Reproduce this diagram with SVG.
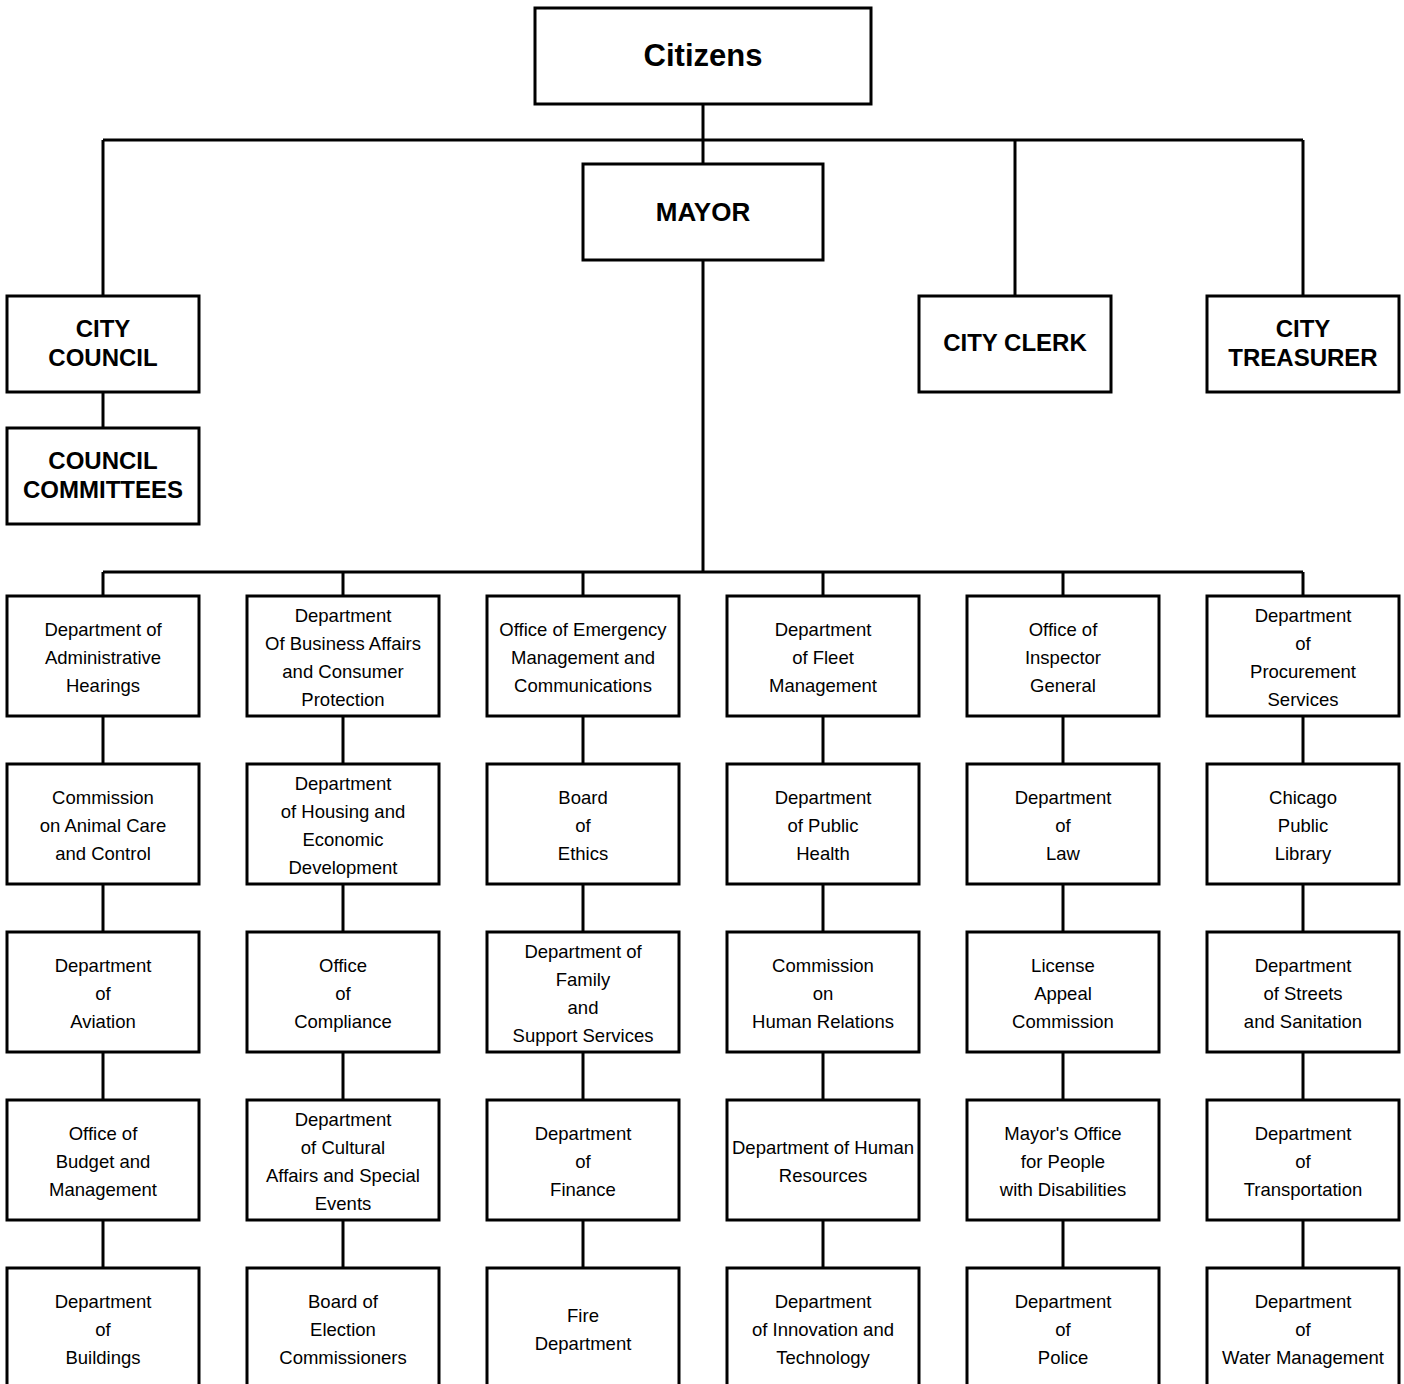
<svg xmlns="http://www.w3.org/2000/svg" width="1404" height="1384" viewBox="0 0 1404 1384">
<style>
rect.b{fill:#fff;stroke:#000;stroke-width:3}
#connectors line{stroke:#000;stroke-width:3}
text{font-family:"Liberation Sans",Arial,Helvetica,sans-serif;fill:#000;text-anchor:middle}
.n{font-size:18.5px}
.h{font-size:24px;font-weight:bold}
</style>
<rect width="1404" height="1384" fill="#fff"/>
<g id="connectors">
<line x1="703" y1="104" x2="703" y2="164"/>
<line x1="103" y1="140" x2="1303" y2="140"/>
<line x1="103" y1="140" x2="103" y2="296"/>
<line x1="1015" y1="140" x2="1015" y2="296"/>
<line x1="1303" y1="140" x2="1303" y2="296"/>
<line x1="103" y1="392" x2="103" y2="428"/>
<line x1="703" y1="260" x2="703" y2="572"/>
<line x1="103" y1="572" x2="1303" y2="572"/>
<line x1="103" y1="572" x2="103" y2="1268"/>
<line x1="343" y1="572" x2="343" y2="1268"/>
<line x1="583" y1="572" x2="583" y2="1268"/>
<line x1="823" y1="572" x2="823" y2="1268"/>
<line x1="1063" y1="572" x2="1063" y2="1268"/>
<line x1="1303" y1="572" x2="1303" y2="1268"/>
</g>
<g id="citizens"><rect class="b" x="535" y="8" width="336" height="96"/><text x="703" y="66" style="font-size:31px;font-weight:bold">Citizens</text></g>
<g id="mayor"><rect class="b" x="583" y="164" width="240" height="96"/><text x="703" y="220.5" style="font-size:26px;font-weight:bold">MAYOR</text></g>
<g id="city-council"><rect class="b" x="7" y="296" width="192" height="96"/><text class="h"><tspan x="103" y="337">CITY</tspan><tspan x="103" y="366">COUNCIL</tspan></text></g>
<g id="council-committees"><rect class="b" x="7" y="428" width="192" height="96"/><text class="h"><tspan x="103" y="469">COUNCIL</tspan><tspan x="103" y="498">COMMITTEES</tspan></text></g>
<g id="city-clerk"><rect class="b" x="919" y="296" width="192" height="96"/><text class="h" x="1015" y="351">CITY CLERK</text></g>
<g id="city-treasurer"><rect class="b" x="1207" y="296" width="192" height="96"/><text class="h"><tspan x="1303" y="337">CITY</tspan><tspan x="1303" y="366">TREASURER</tspan></text></g>

<!-- column 1 -->
<g id="c1r1"><rect class="b" x="7" y="596" width="192" height="120"/><text class="n"><tspan x="103" y="636">Department of</tspan><tspan x="103" y="664">Administrative</tspan><tspan x="103" y="692">Hearings</tspan></text></g>
<g id="c1r2"><rect class="b" x="7" y="764" width="192" height="120"/><text class="n"><tspan x="103" y="804">Commission</tspan><tspan x="103" y="832">on Animal Care</tspan><tspan x="103" y="860">and Control</tspan></text></g>
<g id="c1r3"><rect class="b" x="7" y="932" width="192" height="120"/><text class="n"><tspan x="103" y="972">Department</tspan><tspan x="103" y="1000">of</tspan><tspan x="103" y="1028">Aviation</tspan></text></g>
<g id="c1r4"><rect class="b" x="7" y="1100" width="192" height="120"/><text class="n"><tspan x="103" y="1140">Office of</tspan><tspan x="103" y="1168">Budget and</tspan><tspan x="103" y="1196">Management</tspan></text></g>
<g id="c1r5"><rect class="b" x="7" y="1268" width="192" height="120"/><text class="n"><tspan x="103" y="1308">Department</tspan><tspan x="103" y="1336">of</tspan><tspan x="103" y="1364">Buildings</tspan></text></g>

<!-- column 2 -->
<g id="c2r1"><rect class="b" x="247" y="596" width="192" height="120"/><text class="n"><tspan x="343" y="622">Department</tspan><tspan x="343" y="650">Of Business Affairs</tspan><tspan x="343" y="678">and Consumer</tspan><tspan x="343" y="706">Protection</tspan></text></g>
<g id="c2r2"><rect class="b" x="247" y="764" width="192" height="120"/><text class="n"><tspan x="343" y="790">Department</tspan><tspan x="343" y="818">of Housing and</tspan><tspan x="343" y="846">Economic</tspan><tspan x="343" y="874">Development</tspan></text></g>
<g id="c2r3"><rect class="b" x="247" y="932" width="192" height="120"/><text class="n"><tspan x="343" y="972">Office</tspan><tspan x="343" y="1000">of</tspan><tspan x="343" y="1028">Compliance</tspan></text></g>
<g id="c2r4"><rect class="b" x="247" y="1100" width="192" height="120"/><text class="n"><tspan x="343" y="1126">Department</tspan><tspan x="343" y="1154">of Cultural</tspan><tspan x="343" y="1182">Affairs and Special</tspan><tspan x="343" y="1210">Events</tspan></text></g>
<g id="c2r5"><rect class="b" x="247" y="1268" width="192" height="120"/><text class="n"><tspan x="343" y="1308">Board of</tspan><tspan x="343" y="1336">Election</tspan><tspan x="343" y="1364">Commissioners</tspan></text></g>

<!-- column 3 -->
<g id="c3r1"><rect class="b" x="487" y="596" width="192" height="120"/><text class="n"><tspan x="583" y="636">Office of Emergency</tspan><tspan x="583" y="664">Management and</tspan><tspan x="583" y="692">Communications</tspan></text></g>
<g id="c3r2"><rect class="b" x="487" y="764" width="192" height="120"/><text class="n"><tspan x="583" y="804">Board</tspan><tspan x="583" y="832">of</tspan><tspan x="583" y="860">Ethics</tspan></text></g>
<g id="c3r3"><rect class="b" x="487" y="932" width="192" height="120"/><text class="n"><tspan x="583" y="958">Department of</tspan><tspan x="583" y="986">Family</tspan><tspan x="583" y="1014">and</tspan><tspan x="583" y="1042">Support Services</tspan></text></g>
<g id="c3r4"><rect class="b" x="487" y="1100" width="192" height="120"/><text class="n"><tspan x="583" y="1140">Department</tspan><tspan x="583" y="1168">of</tspan><tspan x="583" y="1196">Finance</tspan></text></g>
<g id="c3r5"><rect class="b" x="487" y="1268" width="192" height="120"/><text class="n"><tspan x="583" y="1322">Fire</tspan><tspan x="583" y="1350">Department</tspan></text></g>

<!-- column 4 -->
<g id="c4r1"><rect class="b" x="727" y="596" width="192" height="120"/><text class="n"><tspan x="823" y="636">Department</tspan><tspan x="823" y="664">of Fleet</tspan><tspan x="823" y="692">Management</tspan></text></g>
<g id="c4r2"><rect class="b" x="727" y="764" width="192" height="120"/><text class="n"><tspan x="823" y="804">Department</tspan><tspan x="823" y="832">of Public</tspan><tspan x="823" y="860">Health</tspan></text></g>
<g id="c4r3"><rect class="b" x="727" y="932" width="192" height="120"/><text class="n"><tspan x="823" y="972">Commission</tspan><tspan x="823" y="1000">on</tspan><tspan x="823" y="1028">Human Relations</tspan></text></g>
<g id="c4r4"><rect class="b" x="727" y="1100" width="192" height="120"/><text class="n"><tspan x="823" y="1154">Department of Human</tspan><tspan x="823" y="1182">Resources</tspan></text></g>
<g id="c4r5"><rect class="b" x="727" y="1268" width="192" height="120"/><text class="n"><tspan x="823" y="1308">Department</tspan><tspan x="823" y="1336">of Innovation and</tspan><tspan x="823" y="1364">Technology</tspan></text></g>

<!-- column 5 -->
<g id="c5r1"><rect class="b" x="967" y="596" width="192" height="120"/><text class="n"><tspan x="1063" y="636">Office of</tspan><tspan x="1063" y="664">Inspector</tspan><tspan x="1063" y="692">General</tspan></text></g>
<g id="c5r2"><rect class="b" x="967" y="764" width="192" height="120"/><text class="n"><tspan x="1063" y="804">Department</tspan><tspan x="1063" y="832">of</tspan><tspan x="1063" y="860">Law</tspan></text></g>
<g id="c5r3"><rect class="b" x="967" y="932" width="192" height="120"/><text class="n"><tspan x="1063" y="972">License</tspan><tspan x="1063" y="1000">Appeal</tspan><tspan x="1063" y="1028">Commission</tspan></text></g>
<g id="c5r4"><rect class="b" x="967" y="1100" width="192" height="120"/><text class="n"><tspan x="1063" y="1140">Mayor's Office</tspan><tspan x="1063" y="1168">for People</tspan><tspan x="1063" y="1196">with Disabilities</tspan></text></g>
<g id="c5r5"><rect class="b" x="967" y="1268" width="192" height="120"/><text class="n"><tspan x="1063" y="1308">Department</tspan><tspan x="1063" y="1336">of</tspan><tspan x="1063" y="1364">Police</tspan></text></g>

<!-- column 6 -->
<g id="c6r1"><rect class="b" x="1207" y="596" width="192" height="120"/><text class="n"><tspan x="1303" y="622">Department</tspan><tspan x="1303" y="650">of</tspan><tspan x="1303" y="678">Procurement</tspan><tspan x="1303" y="706">Services</tspan></text></g>
<g id="c6r2"><rect class="b" x="1207" y="764" width="192" height="120"/><text class="n"><tspan x="1303" y="804">Chicago</tspan><tspan x="1303" y="832">Public</tspan><tspan x="1303" y="860">Library</tspan></text></g>
<g id="c6r3"><rect class="b" x="1207" y="932" width="192" height="120"/><text class="n"><tspan x="1303" y="972">Department</tspan><tspan x="1303" y="1000">of Streets</tspan><tspan x="1303" y="1028">and Sanitation</tspan></text></g>
<g id="c6r4"><rect class="b" x="1207" y="1100" width="192" height="120"/><text class="n"><tspan x="1303" y="1140">Department</tspan><tspan x="1303" y="1168">of</tspan><tspan x="1303" y="1196">Transportation</tspan></text></g>
<g id="c6r5"><rect class="b" x="1207" y="1268" width="192" height="120"/><text class="n"><tspan x="1303" y="1308">Department</tspan><tspan x="1303" y="1336">of</tspan><tspan x="1303" y="1364">Water Management</tspan></text></g>
</svg>
